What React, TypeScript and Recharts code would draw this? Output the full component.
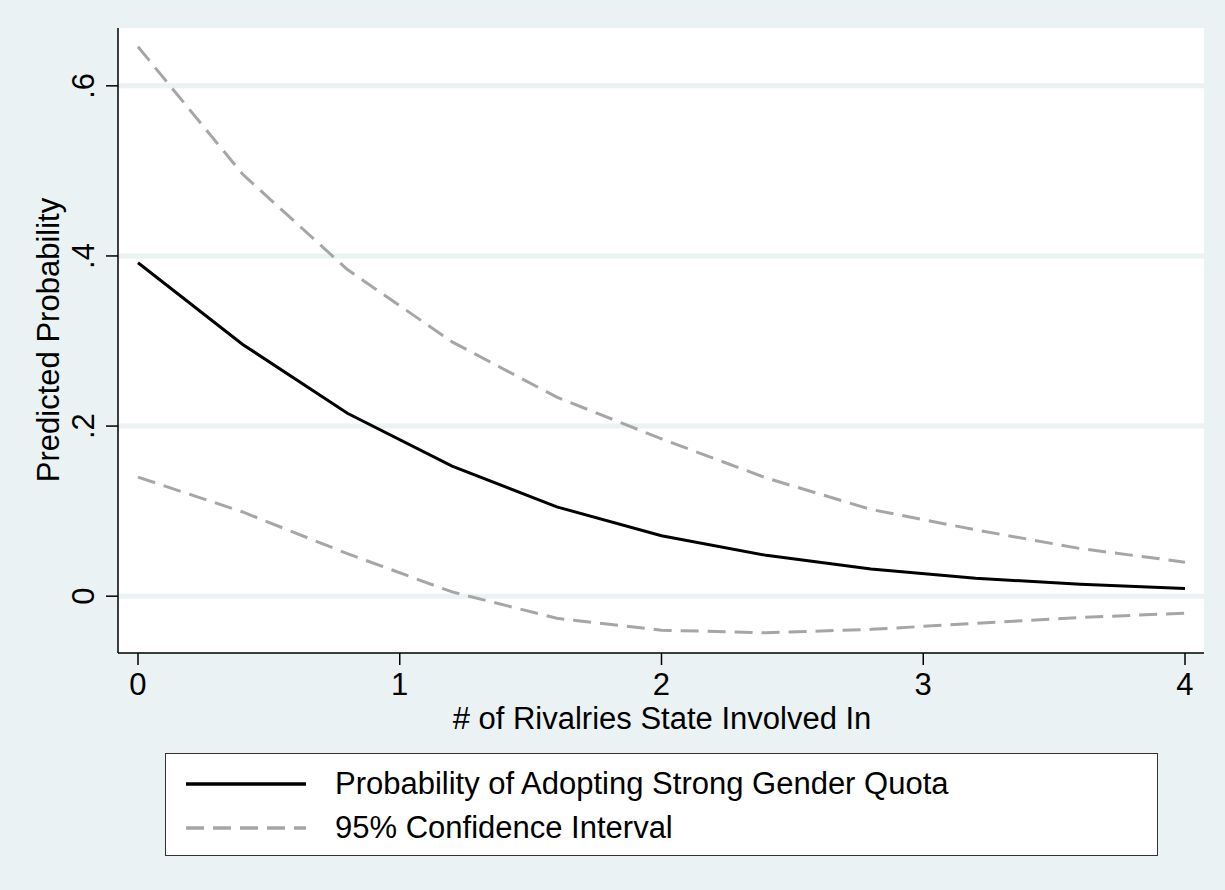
import { LineChart, Line, XAxis, YAxis, CartesianGrid, Legend, Label } from 'recharts';

const rivalries = [0, 0.4, 0.8, 1.2, 1.6, 2, 2.4, 2.8, 3.2, 3.6, 4];
const probability = [0.392, 0.296, 0.215, 0.153, 0.105, 0.071, 0.048, 0.032, 0.021, 0.014, 0.009];
const upperCI = [0.646, 0.496, 0.384, 0.299, 0.234, 0.185, 0.139, 0.102, 0.078, 0.056, 0.04];
const lowerCI = [0.14, 0.099, 0.05, 0.005, -0.026, -0.04, -0.043, -0.039, -0.032, -0.025, -0.02];
const xTicks = [0, 1, 2, 3, 4];
const yTicks = [0, 0.2, 0.4, 0.6];
const legendOrder = ['prob', 'upper'];

const data = rivalries.map((x, i) => ({
  x,
  prob: probability[i],
  upper: upperCI[i],
  lower: lowerCI[i],
}));

const BG = '#eaf2f3';
const CI_GRAY = '#a6a6a6';
const FONT = '"Liberation Sans", Arial, sans-serif';
const FS = 31;

function fmtY(v: number) {
  if (v === 0) return '0';
  return v.toFixed(1).replace(/^0/, '');
}

function YTick({ x, y, payload }: any) {
  const tx = x - 10;
  return (
    <text
      x={tx}
      y={y}
      transform={`rotate(-90, ${tx}, ${y})`}
      textAnchor="middle"
      fontSize={FS}
      fontFamily={FONT}
      fill="#000"
    >
      {fmtY(payload.value)}
    </text>
  );
}

function XTick({ x, y, payload }: any) {
  return (
    <text x={x} y={y + 28} textAnchor="middle" fontSize={FS} fontFamily={FONT} fill="#000">
      {payload.value}
    </text>
  );
}

function LegendBox({ payload }: any) {
  const items = (payload || [])
    .filter((p: any) => legendOrder.includes(p.dataKey))
    .sort((a: any, b: any) => legendOrder.indexOf(a.dataKey) - legendOrder.indexOf(b.dataKey));
  return (
    <div
      style={{
        width: 993,
        height: 103,
        boxSizing: 'border-box',
        border: '1.5px solid #333',
        background: '#fff',
        fontFamily: FONT,
        fontSize: FS,
        position: 'relative',
      }}
    >
      {items.map((p: any, i: number) => (
        <div
          key={p.dataKey}
          style={{
            position: 'absolute',
            left: 20,
            top: 12 + i * 44,
            height: 36,
            display: 'flex',
            alignItems: 'center',
            whiteSpace: 'nowrap',
          }}
        >
          <svg width={120} height={8}>
            <line
              x1={0}
              y1={4}
              x2={120}
              y2={4}
              stroke={p.color}
              strokeWidth={3.5}
              strokeDasharray={p.dataKey === 'upper' ? '18 9' : undefined}
            />
          </svg>
          <span style={{ marginLeft: 29, color: '#000', lineHeight: '36px' }}>{p.value}</span>
        </div>
      ))}
    </div>
  );
}

export default function App() {
  return (
    <div style={{ width: 1225, height: 890, background: BG, position: 'relative' }}>
      <style>{'body{margin:0}'}</style>
      <LineChart
        width={1225}
        height={890}
        data={data}
        margin={{ top: 28, right: 21, bottom: 0, left: 0 }}
        style={{ background: BG }}
      >
        <CartesianGrid
          horizontal
          vertical={false}
          stroke={BG}
          strokeWidth={5}
          fill="#fff"
          horizontalValues={yTicks}
        />
        <XAxis
          dataKey="x"
          type="number"
          domain={[-0.0764, 4.0726]}
          ticks={xTicks}
          allowDataOverflow
          height={237}
          stroke="#000"
          strokeWidth={1.5}
          tickSize={12}
          tick={<XTick />}
        >
          <Label
            content={() => (
              <text x={662} y={729} textAnchor="middle" fontSize={FS} fontFamily={FONT} fill="#000">
                # of Rivalries State Involved In
              </text>
            )}
          />
        </XAxis>
        <YAxis
          type="number"
          domain={[-0.0668, 0.668]}
          ticks={yTicks}
          allowDataOverflow
          width={118}
          stroke="#000"
          strokeWidth={1.5}
          tickSize={12}
          tick={<YTick />}
        >
          <Label
            content={() => (
              <text
                x={59}
                y={340}
                transform="rotate(-90, 59, 340)"
                textAnchor="middle"
                fontSize={FS}
                fontFamily={FONT}
                fill="#000"
              >
                Predicted Probability
              </text>
            )}
          />
        </YAxis>
        <Line
          dataKey="prob"
          name="Probability of Adopting Strong Gender Quota"
          stroke="#000"
          strokeWidth={3}
          dot={false}
          type="linear"
          isAnimationActive={false}
        />
        <Line
          dataKey="upper"
          name="95% Confidence Interval"
          stroke={CI_GRAY}
          strokeWidth={3}
          strokeDasharray="18 9"
          dot={false}
          type="linear"
          isAnimationActive={false}
        />
        <Line
          dataKey="lower"
          name="lower"
          legendType="none"
          stroke={CI_GRAY}
          strokeWidth={3}
          strokeDasharray="18 9"
          dot={false}
          type="linear"
          isAnimationActive={false}
        />
        <Legend
          content={<LegendBox />}
          wrapperStyle={{ position: 'absolute', left: 165, top: 753, width: 993, height: 0, overflow: 'visible' }}
        />
      </LineChart>
    </div>
  );
}
